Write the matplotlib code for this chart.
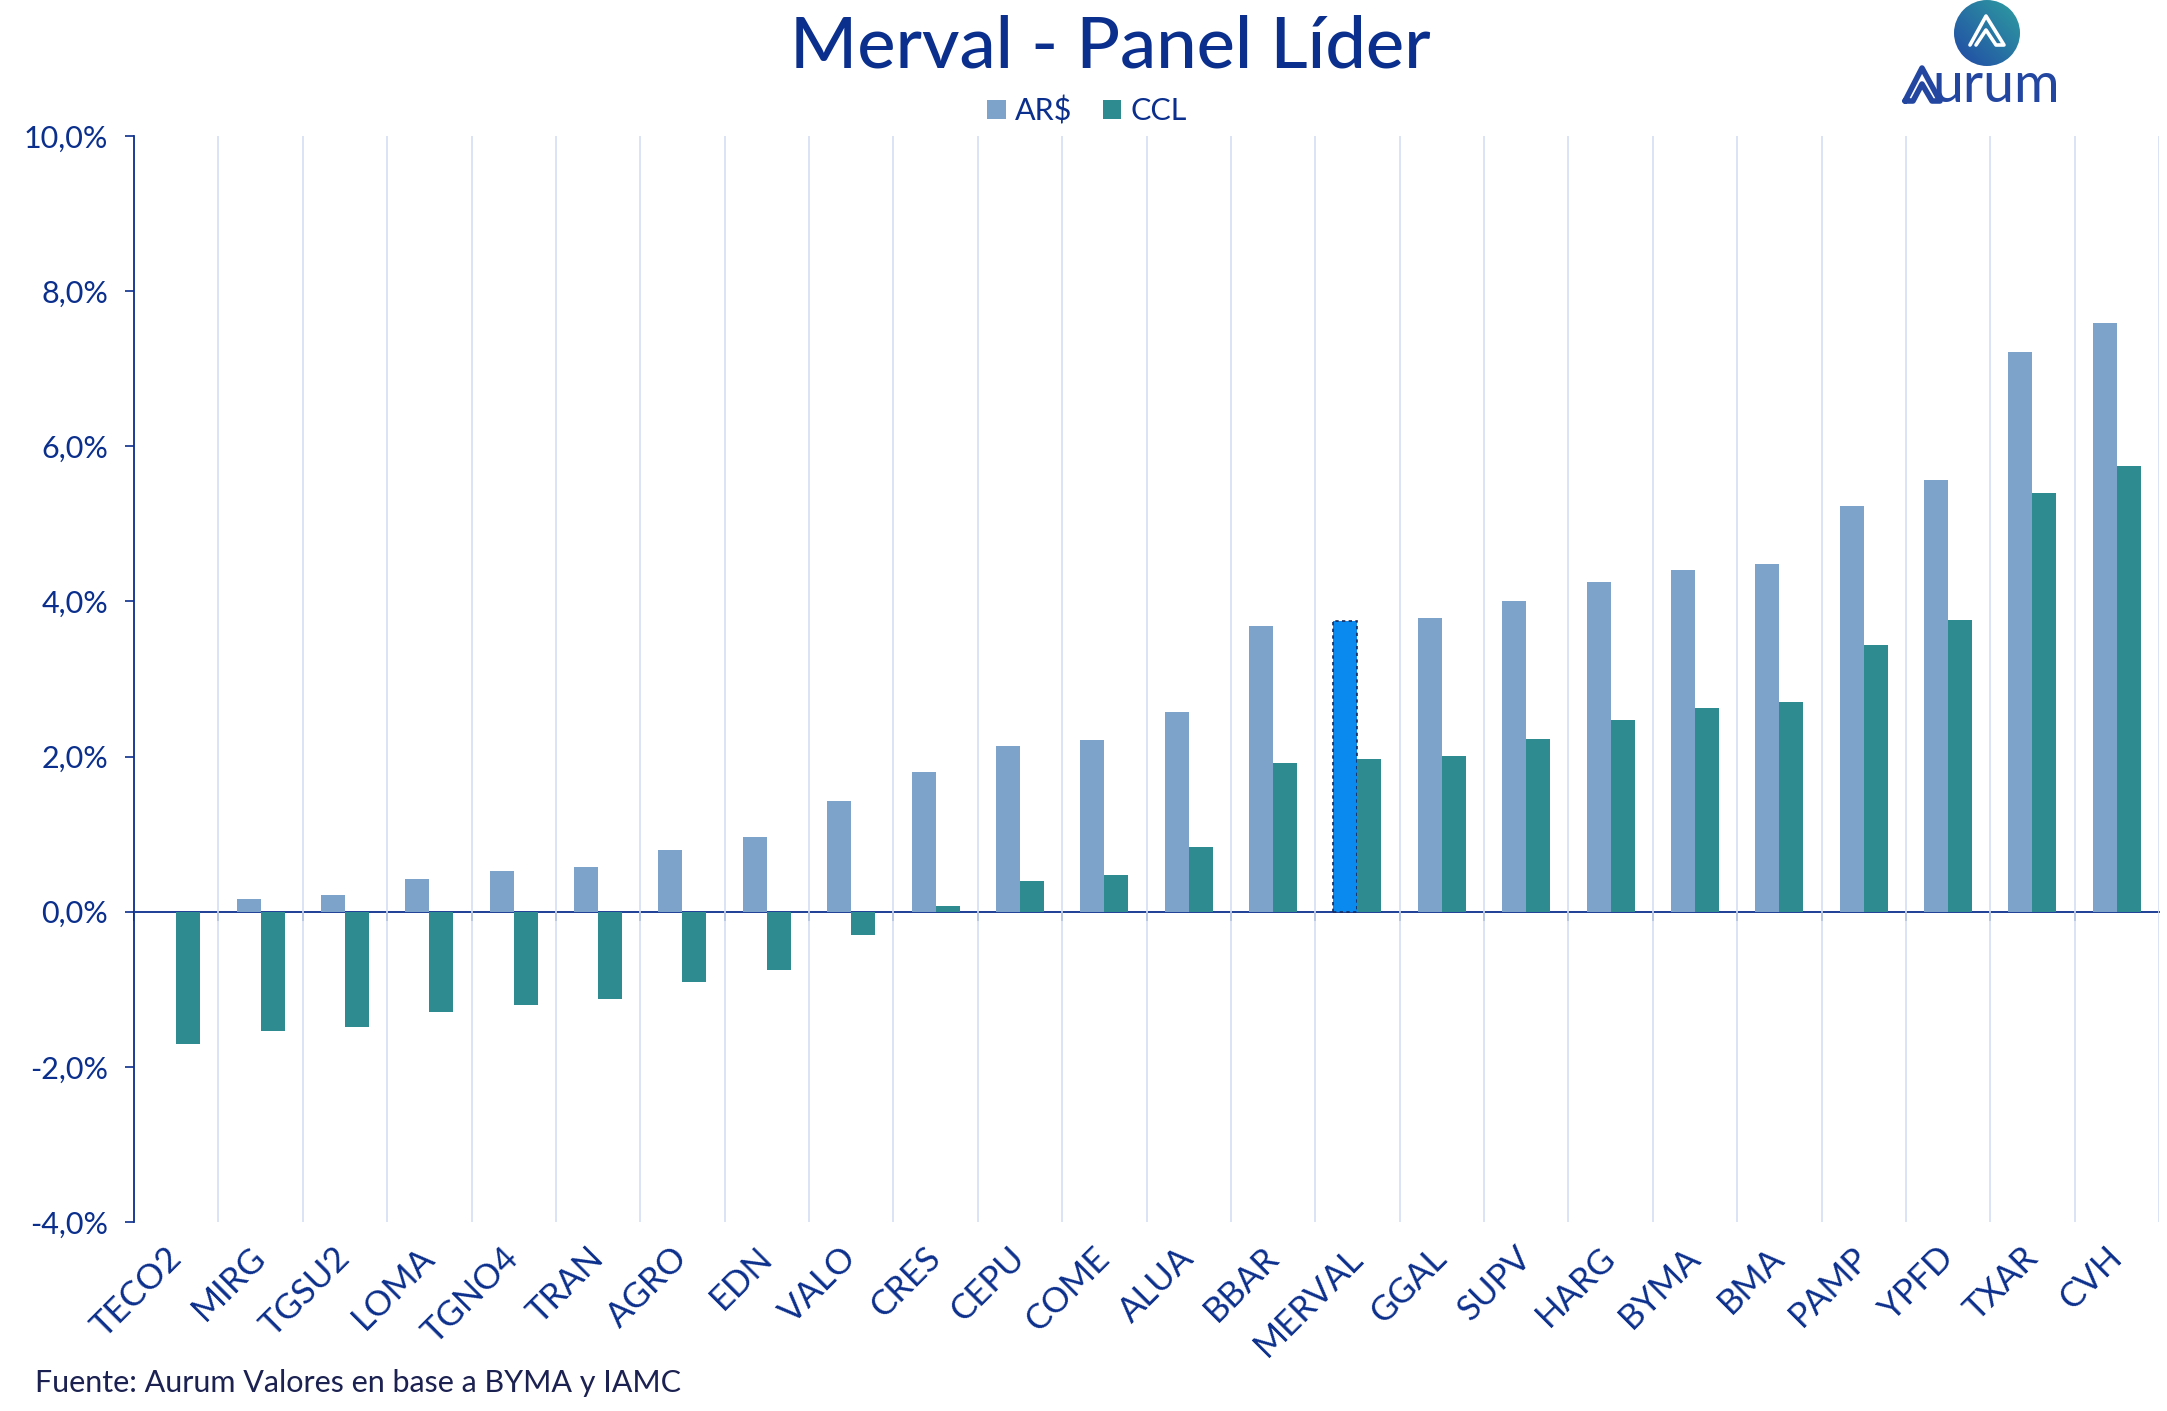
import numpy as np
import matplotlib
matplotlib.use("Agg")
import matplotlib.pyplot as plt
from matplotlib.patches import Circle, Patch
from matplotlib.ticker import FuncFormatter, FixedLocator
from matplotlib.colors import LinearSegmentedColormap

# ---------------- data ----------------
categories = ["TECO2", "MIRG", "TGSU2", "LOMA", "TGNO4", "TRAN", "AGRO", "EDN",
              "VALO", "CRES", "CEPU", "COME", "ALUA", "BBAR", "MERVAL", "GGAL",
              "SUPV", "HARG", "BYMA", "BMA", "PAMP", "YPFD", "TXAR", "CVH"]
ars_values = [0.00, 0.16, 0.22, 0.42, 0.52, 0.58, 0.80, 0.96, 1.43, 1.80, 2.13, 2.22,
              2.57, 3.68, 3.75, 3.78, 4.00, 4.25, 4.40, 4.48, 5.23, 5.56, 7.22, 7.59]
ccl_values = [-1.70, -1.54, -1.48, -1.29, -1.20, -1.13, -0.91, -0.75, -0.30, 0.07, 0.39, 0.47,
              0.83, 1.92, 1.97, 2.01, 2.23, 2.47, 2.62, 2.70, 3.44, 3.76, 5.40, 5.74]
series_names = ["AR$", "CCL"]
y_ticks = [-4, -2, 0, 2, 4, 6, 8, 10]
highlight = "MERVAL"

title_text = "Merval - Panel Líder"
source_text = "Fuente: Aurum Valores en base a BYMA y IAMC"

# ---------------- style ----------------
W, H = 2167, 1411
NAVY = "#0B2F8C"
C_ARS = "#7EA3CA"
C_CCL = "#2E8C90"
C_HL = "#0A89EE"
GRID = "#D5DEF2"
FONT = "Lato"

plt.rcParams["font.family"] = [FONT, "DejaVu Sans"]

fig = plt.figure(figsize=(W / 100, H / 100), dpi=100)
fig.patch.set_facecolor("white")

x0, x1, ytop, ybot = 134, 2159, 136, 1222
ax = fig.add_axes([x0 / W, 1 - ybot / H, (x1 - x0) / W, (ybot - ytop) / H])

n = len(categories)
x = np.arange(n)
bw = 0.285
ars_colors = [C_HL if c == highlight else C_ARS for c in categories]
bars_a = ax.bar(x - bw / 2, ars_values, width=bw, color=ars_colors, zorder=3, linewidth=0)
ax.bar(x + bw / 2, ccl_values, width=bw, color=C_CCL, zorder=3, linewidth=0)
for b, c in zip(bars_a, categories):
    if c == highlight:
        b.set_edgecolor("#1A2A5A")
        b.set_linewidth(1.2)
        b.set_linestyle((0, (2, 2)))

ax.set_xlim(-0.5, n - 0.5)
ax.set_ylim(y_ticks[0], y_ticks[-1])

# y axis
ax.set_yticks(y_ticks)
ax.yaxis.set_major_formatter(FuncFormatter(lambda v, p: f"{v:.1f}%".replace(".", ",")))
ax.tick_params(axis="y", direction="out", length=6.5, width=1.2, color=NAVY,
               labelsize=22, labelcolor=NAVY, pad=12)

# x axis labels at category centers
ax.set_xticks(x)
ax.set_xticklabels(categories, rotation=45, ha="right", va="center",
                   rotation_mode="anchor", fontsize=25, color=NAVY)
ax.tick_params(axis="x", length=0, pad=22)

# vertical grid at category boundaries
bounds = np.arange(n + 1) - 0.5
ax.xaxis.set_minor_locator(FixedLocator(bounds))
ax.tick_params(axis="x", which="minor", length=0)
ax.grid(axis="x", which="minor", color=GRID, linewidth=1.2, zorder=0)
ax.grid(axis="x", which="major", visible=False)
ax.grid(axis="y", visible=False)

for s in ["top", "right", "bottom"]:
    ax.spines[s].set_visible(False)
ax.spines["left"].set_color(NAVY)
ax.spines["left"].set_linewidth(1.3)

# zero line with boundary ticks
zero_loc = (0 - y_ticks[0]) / (y_ticks[-1] - y_ticks[0])
sec = ax.secondary_xaxis(zero_loc)
try:
    sec.set_alignment("bottom")
except Exception:
    pass
sec.set_xticks(bounds[:-1])
sec.set_xticklabels([""] * (len(bounds) - 1))
sec.tick_params(axis="x", direction="out", length=6.5, width=1.2, color=NAVY)
for s in sec.spines.values():
    s.set_color(NAVY)
    s.set_linewidth(1.3)

# title, legend, source
fig.text(1110 / W, 1 - 48 / H, title_text, ha="center", va="center",
         fontsize=52, fontweight="medium", color=NAVY)
handles = [Patch(facecolor=C_ARS, edgecolor="none"), Patch(facecolor=C_CCL, edgecolor="none")]
leg = fig.legend(handles, series_names, loc="center", bbox_to_anchor=(1087 / W, 1 - 111 / H),
                 ncol=2, frameon=False, fontsize=22, handlelength=0.6, handleheight=0.6,
                 handletextpad=0.3, columnspacing=1.0, labelcolor=NAVY)
fig.text(35 / W, 1 - 1383 / H, source_text, ha="left", va="center",
         fontsize=22, color="#1B2150")

# ---------------- logo ----------------
lg = fig.add_axes([0, 0, 1, 1], facecolor="none")
lg.set_xlim(0, W)
lg.set_ylim(H, 0)
lg.axis("off")
cx, cy, r = 1987, 33, 33
gx, gy = np.meshgrid(np.linspace(0, 1, 100), np.linspace(0, 1, 100))
grad = (gx + (1 - gy)) / 2
cmap = LinearSegmentedColormap.from_list("aur", ["#2148A6", "#2E9FA0"])
im = lg.imshow(grad, cmap=cmap, extent=[cx - r, cx + r, cy + r, cy - r], origin="upper",
               interpolation="bilinear", zorder=5)
circ = Circle((cx, cy), r, transform=lg.transData, facecolor="none", edgecolor="none")
lg.add_patch(circ)
im.set_clip_path(circ)
lg.plot([1970, 1986, 2004, 1996, 1986, 1976], [45, 16, 45, 45, 30, 45], color="white",
        lw=2.6, solid_joinstyle="round", solid_capstyle="round", zorder=6)
lg.plot([1905, 1922, 1940, 1932, 1922, 1913, 1905], [101, 68, 101, 101, 84, 101, 101],
        color="#2346A0", lw=4, solid_joinstyle="round", solid_capstyle="round", zorder=6)
lg.text(1932, 102, "urum", ha="left", va="baseline", fontsize=40, color="#2346A0", zorder=6)

fig.savefig("out.png", dpi=100, facecolor="white")
